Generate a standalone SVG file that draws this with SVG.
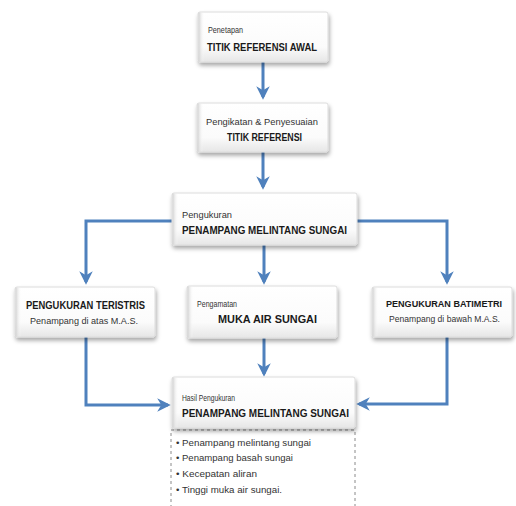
<svg xmlns="http://www.w3.org/2000/svg" width="516" height="506" viewBox="0 0 516 506">
<defs>
<linearGradient id="g" x1="0" y1="0" x2="0" y2="1">
<stop offset="0" stop-color="#ffffff"/>
<stop offset="0.7" stop-color="#fbfbfb"/>
<stop offset="1" stop-color="#e6e6e6"/>
</linearGradient>
<linearGradient id="gl" x1="0" y1="0" x2="1" y2="0">
<stop offset="0" stop-color="#d0d0d0"/>
<stop offset="1" stop-color="#ffffff" stop-opacity="0"/>
</linearGradient>
<filter id="sh" x="-10%" y="-10%" width="125%" height="140%">
<feDropShadow dx="1" dy="3" stdDeviation="2" flood-color="#000" flood-opacity="0.35"/>
</filter>
<marker id="ah" viewBox="0 0 10 10" refX="8" refY="5" markerWidth="4.5" markerHeight="4.5" orient="auto" markerUnits="strokeWidth">
<path d="M0,0 L10,5 L0,10 L3,5 z" fill="#4f81bd"/>
</marker>
</defs>
<style>
.box{fill:url(#g);stroke:#dcdcdc;stroke-width:1;filter:url(#sh)}
.bev{fill:url(#gl)}
.c{fill:none;stroke:#4f81bd;stroke-width:3;marker-end:url(#ah)}
.s{font-family:"Liberation Sans",Arial,sans-serif;font-size:9.5px;fill:#333}
.t{font-family:"Liberation Sans",Arial,sans-serif;font-size:11px;font-weight:bold;fill:#1a1a1a}
.l{font-family:"Liberation Sans",Arial,sans-serif;font-size:9.5px;fill:#333}
</style>
<rect width="516" height="506" fill="#ffffff"/>
<g id="connectors">
<path class="c" d="M263,62 V97"/>
<path class="c" d="M263,152 V187"/>
<path class="c" d="M264,245 V282"/>
<path class="c" d="M172,221 H86 V282"/>
<path class="c" d="M357,221 H447 V282"/>
<path class="c" d="M86,337 V405 H168"/>
<path class="c" d="M264,338 V374"/>
<path class="c" d="M447,337 V404 H359"/>
</g>
<g id="n1">
<rect class="box" x="198" y="12" width="130" height="50" rx="2"/>
<rect class="bev" x="198.5" y="12.5" width="6" height="49"/>
<text class="s" x="208" y="33" textLength="35" lengthAdjust="spacingAndGlyphs">Penetapan</text>
<text class="t" x="207" y="51" textLength="110" lengthAdjust="spacingAndGlyphs">TITIK REFERENSI AWAL</text>
</g>
<g id="n2">
<rect class="box" x="197" y="103" width="131" height="49" rx="2"/>
<rect class="bev" x="197.5" y="103.5" width="6" height="48"/>
<text class="s" x="206" y="125" textLength="112" lengthAdjust="spacingAndGlyphs">Pengikatan &amp; Penyesuaian</text>
<text class="t" x="227" y="141" textLength="75" lengthAdjust="spacingAndGlyphs">TITIK REFERENSI</text>
</g>
<g id="n3">
<rect class="box" x="172" y="193" width="185" height="52" rx="2"/>
<rect class="bev" x="172.5" y="193.5" width="6" height="51"/>
<text class="s" x="182" y="218" textLength="50" lengthAdjust="spacingAndGlyphs">Pengukuran</text>
<text class="t" x="182" y="234" textLength="165" lengthAdjust="spacingAndGlyphs">PENAMPANG MELINTANG SUNGAI</text>
</g>
<g id="n4">
<rect class="box" x="15" y="287" width="140" height="50" rx="2"/>
<rect class="bev" x="15.5" y="287.5" width="6" height="49"/>
<text class="t" x="26" y="309" textLength="119" lengthAdjust="spacingAndGlyphs">PENGUKURAN TERISTRIS</text>
<text class="s" x="30" y="324" textLength="108" lengthAdjust="spacingAndGlyphs">Penampang di atas M.A.S.</text>
</g>
<g id="n5">
<rect class="box" x="187" y="286" width="150" height="52" rx="2"/>
<rect class="bev" x="187.5" y="286.5" width="6" height="51"/>
<text class="s" x="197" y="307" textLength="40" lengthAdjust="spacingAndGlyphs">Pengamatan</text>
<text class="t" x="218" y="323" textLength="99" lengthAdjust="spacingAndGlyphs">MUKA AIR SUNGAI</text>
</g>
<g id="n6">
<rect class="box" x="372" y="287" width="140" height="50" rx="2"/>
<rect class="bev" x="372.5" y="287.5" width="6" height="49"/>
<text class="t" x="386" y="307" font-size="9.8" style="font-size:9.8px" textLength="116" lengthAdjust="spacingAndGlyphs">PENGUKURAN BATIMETRI</text>
<text class="s" x="389" y="322" textLength="111" lengthAdjust="spacingAndGlyphs">Penampang di bawah M.A.S.</text>
</g>
<g id="n7">
<rect x="171" y="430" width="184" height="80" fill="#ffffff" stroke="#8a8a8a" stroke-width="1" stroke-dasharray="3,3"/>
<rect class="box" x="172" y="377" width="183" height="51" rx="2"/>
<rect class="bev" x="172.5" y="377.5" width="6" height="50"/>
<text class="s" x="182" y="401" textLength="53" lengthAdjust="spacingAndGlyphs">Hasil Pengukuran</text>
<text class="t" x="182" y="417" textLength="167" lengthAdjust="spacingAndGlyphs">PENAMPANG MELINTANG SUNGAI</text>
<text class="l" x="176" y="446" textLength="135" lengthAdjust="spacingAndGlyphs">• Penampang melintang sungai</text>
<text class="l" x="176" y="461" textLength="117" lengthAdjust="spacingAndGlyphs">• Penampang basah sungai</text>
<text class="l" x="176" y="477" textLength="81" lengthAdjust="spacingAndGlyphs">• Kecepatan aliran</text>
<text class="l" x="176" y="493" textLength="106" lengthAdjust="spacingAndGlyphs">• Tinggi muka air sungai.</text>
</g>
</svg>
